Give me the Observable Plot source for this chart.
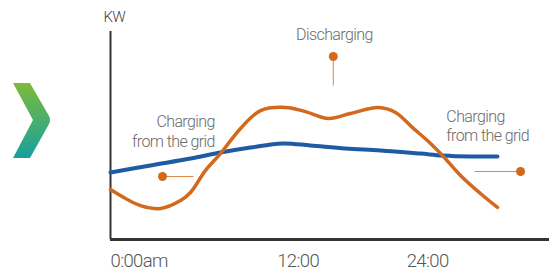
<!DOCTYPE html>
<html><head><meta charset="utf-8">
<script src="https://cdn.jsdelivr.net/npm/d3@7"></script>
<script src="https://cdn.jsdelivr.net/npm/@observablehq/plot@0.6"></script>
<style>
body{margin:0;background:#fff;}
#wrap{position:relative;width:549px;height:271px;overflow:hidden;}
#chev{position:absolute;left:0;top:0;}
#chart{position:absolute;left:0;top:0;}
#chart text{letter-spacing:-0.6px;font-weight:300;}
</style></head><body>
<div id="wrap">
<svg id="chev" width="60" height="271">
  <defs><linearGradient id="cg" x1="0" y1="0" x2="0" y2="1">
    <stop offset="0" stop-color="#7dbb3c"/><stop offset="1" stop-color="#17a09d"/></linearGradient></defs>
  <path d="M13,83 L30,83 L49,116 Q51,120 49,124 L30,158 L13,158 L33,120 Z" fill="url(#cg)"/>
</svg>
<div id="chart"></div>
</div>
<script>
// Orange series: battery / storage power (schematic units)
const storageT  = [0, 1.37, 2.73, 4.56, 6.38, 7.29, 8.66, 10.02, 11.85, 13.67, 15.95, 17.77, 19.86, 21.87, 24.42, 25.97, 27.52, 29.16, 30.25, 31.89, 33.71, 35.26];
const storageKW = [24.0, 19.7, 16.3, 14.9, 18.7, 22.6, 33.2, 41.3, 53.4, 62.0, 63.5, 61.5, 58.2, 60.6, 63.5, 61.1, 53.8, 46.2, 40.4, 30.8, 22.1, 15.4];
// Blue series: grid load
const gridT  = [0, 3.64, 7.29, 10.02, 12.76, 15.67, 18.22, 21.41, 24.6, 28.25, 30.25, 32.8, 35.26];
const gridKW = [32.2, 35.6, 38.9, 41.8, 44.2, 46.2, 45.2, 43.75, 42.8, 41.3, 40.4, 39.9, 39.9];
// Axis ticks
const tickT = [0, 17.1, 28.9];
const tickLabels = ["0:00am", "12:00", "24:00"];
// Annotations
const annoLabels = ["Charging\nfrom the grid", "Discharging", "Charging\nfrom the grid"];
const annoT  = [9.5, 20.4, 30.6];
const annoKW = [44.4, 95.7, 47.4];
const dotT  = [4.74, 20.3, 37.36];
const dotKW = [30.3, 88.0, 32.7];
const leadT  = [7.56, 20.3, 33.17];
const leadKW = [30.3, 74.0, 32.7];

const storage = storageT.map((t, i) => ({t, kw: storageKW[i]}));
const grid = gridT.map((t, i) => ({t, kw: gridKW[i]}));
const ticks = tickT.map((t, i) => ({t, label: tickLabels[i]}));
const annos = annoLabels.map((label, i) => ({label, t: annoT[i], kw: annoKW[i], dt: dotT[i], dk: dotKW[i], lt: leadT[i], lk: leadKW[i]}));

const orange = "#d2691c", blue = "#1f5aa5", gray = "#6a6a6a";
const font = "Roboto, Lato, sans-serif";

const chart = Plot.plot({
  width: 549, height: 271,
  marginLeft: 110, marginRight: 0, marginTop: 31, marginBottom: 32,
  x: {domain: [0, 40], axis: null},
  y: {domain: [0, 100], axis: null},
  style: {fontFamily: font, background: "transparent", overflow: "visible"},
  marks: [
    Plot.ruleX([0], {y1: 0, y2: 100, stroke: "#333", strokeWidth: 2}),
    Plot.ruleY([0], {stroke: "#333", strokeWidth: 3}),
    Plot.link(annos, {x1: "dt", y1: "dk", x2: "lt", y2: "lk", stroke: orange, strokeWidth: 1, strokeOpacity: 0.8}),
    Plot.dot(annos, {x: "dt", y: "dk", r: 4.5, fill: orange, stroke: null}),
    Plot.line(grid, {x: "t", y: "kw", stroke: blue, strokeWidth: 4, curve: "catmull-rom"}),
    Plot.line(storage, {x: "t", y: "kw", stroke: orange, strokeWidth: 3.5, curve: "catmull-rom"}),
    Plot.text(annos.slice(0, 1), {x: "t", y: "kw", text: "label", textAnchor: "end", lineAnchor: "bottom", lineHeight: 1.25, fontSize: 16, fill: gray}),
    Plot.text(annos.slice(1, 2), {x: "t", y: "kw", text: "label", textAnchor: "middle", lineAnchor: "bottom", fontSize: 16, fill: gray}),
    Plot.text(annos.slice(2), {x: "t", y: "kw", text: "label", textAnchor: "start", lineAnchor: "bottom", lineHeight: 1.2, fontSize: 16, fill: gray}),
    Plot.text(ticks.slice(0, 1), {x: "t", frameAnchor: "bottom", dy: 27.5, text: "label", textAnchor: "start", lineAnchor: "bottom", fontSize: 18.5, fill: "#555"}),
    Plot.text(ticks.slice(1), {x: "t", frameAnchor: "bottom", dy: 27.5, text: "label", textAnchor: "middle", lineAnchor: "bottom", fontSize: 18.5, fill: "#555"}),
    Plot.text(["KW"], {x: 0, y: 100, dx: -7, dy: -9.5, textAnchor: "start", lineAnchor: "bottom", fontSize: 15, fill: "#444"})
  ]
});
document.getElementById("chart").appendChild(chart);
</script>
</body></html>
